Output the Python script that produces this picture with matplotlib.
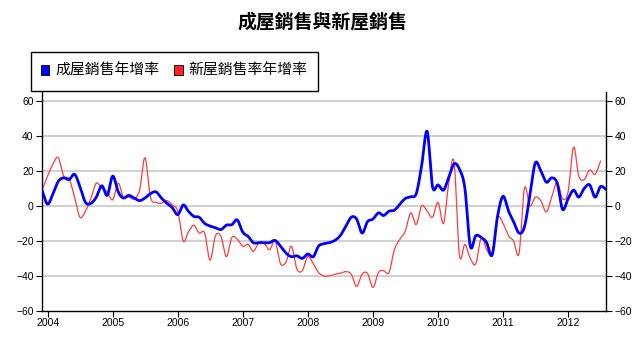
import numpy as np
import pandas as pd
import matplotlib
matplotlib.use("Agg")
import matplotlib.pyplot as plt
import matplotlib.dates as mdates
from matplotlib.patches import Patch, Rectangle

plt.rcParams['font.family'] = ['Noto Sans CJK TC', 'DejaVu Sans']

title = "成屋銷售與新屋銷售"
label_existing = "成屋銷售年增率"
label_new = "新屋銷售率年增率"

# monthly, Dec 2003 .. Aug 2012
existing = [9, 1, 7, 14, 16, 15, 18, 11, 2, 1.5, 5, 11.5,
            6, 17, 8, 4.5, 6, 4.5, 3, 4.5, 7, 8, 4.5, 1.5,
            -1, -5, 0.5, -3, -6, -6.5, -10, -11.5, -12.5, -13.5, -11, -10.7,
            -8, -15, -17.5, -21, -21, -21, -21, -19.7, -23, -27, -29, -28.5,
            -30, -27.5, -29, -23, -21.6, -21, -19.7, -17, -11.7, -6.5, -7.5, -15.5,
            -9, -7.5, -4, -5.5, -3, -2.5, 1, 4.2, 5.2, 7, 23, 42.5,
            11, 12, 9, 16, 24, 21, 10, -23, -17, -18, -21, -28,
            -6, 5.5, -3, -9, -15.5, -12, 6, 24.5, 20, 13.5, 16, 13,
            -2, 4, 9, 5, 10, 12, 5, 11, 9.5]
# monthly, Dec 2003 .. Jul 2012
new = [9, 17, 24, 27.5, 17, 15.5, 5, -6.5, -3, 4.5, 13, 10,
       8, 3.5, 13, 5, 5, 4, 9, 27.5, 5, 2, 1.5, 3,
       0.5, -3, -20, -15, -11, -15.5, -15.5, -31, -17, -17.5, -29, -18,
       -19, -23, -22, -26, -21, -21.5, -25, -20, -33, -32, -23, -36,
       -37, -29, -33, -38, -40, -40, -39, -38.5, -37.5, -39, -46, -39,
       -38.5, -46.5, -38, -37, -38, -25, -19, -14.5, -4, -10.7, 0, -3,
       -6.5, 2, -10, 12, 25, -28, -22, -30, -33, -18, -25, -27,
       -7, -10, -17, -20, -27, 10, 0, 5, 3, -3.5, 5, 13.5,
       4, 8, 33.5, 17, 15, 20.5, 18, 25.5]

dates_e = pd.date_range('2003-12-01', periods=len(existing), freq='MS')
dates_n = pd.date_range('2003-12-01', periods=len(new), freq='MS')


def smooth(dates, vals, n=12):
    x = mdates.date2num(dates.to_pydatetime())
    y = np.asarray(vals, float)
    xp = np.concatenate([[2 * x[0] - x[1]], x, [2 * x[-1] - x[-2]]])
    yp = np.concatenate([[2 * y[0] - y[1]], y, [2 * y[-1] - y[-2]]])
    xs, ys = [], []
    t = np.linspace(0, 1, n, endpoint=False)
    for i in range(1, len(xp) - 2):
        p0, p1, p2, p3 = yp[i - 1], yp[i], yp[i + 1], yp[i + 2]
        seg = 0.5 * ((2 * p1) + (-p0 + p2) * t + (2 * p0 - 5 * p1 + 4 * p2 - p3) * t ** 2
                     + (-p0 + 3 * p1 - 3 * p2 + p3) * t ** 3)
        xs.append(xp[i] + (xp[i + 1] - xp[i]) * t)
        ys.append(seg)
    xs.append([x[-1]]); ys.append([y[-1]])
    return np.concatenate(xs), np.concatenate(ys)


fig = plt.figure(figsize=(6.4, 3.47), dpi=100)
ax = fig.add_axes([42 / 640, 1 - 311 / 347, (606 - 42) / 640, (311 - 92) / 347])

for v in [-40, -20, 0, 20, 40, 60]:
    ax.axhline(v, color='#c8c8c8', lw=1.2, zorder=0)

xn, yn = smooth(dates_n, new)
xe, ye = smooth(dates_e, existing)
ax.plot(xn, yn, color='#ff3b3b', lw=0.9, zorder=2)
ax.plot(xe, ye, color='#0000ff', lw=2.0, zorder=3)

ax.set_xlim(mdates.date2num(dates_e[0].to_pydatetime()), mdates.date2num(dates_e[-1].to_pydatetime()))
ax.set_ylim(-60, 65)
ax.set_yticks([-60, -40, -20, 0, 20, 40, 60])
ax.xaxis.set_major_locator(mdates.YearLocator())
ax.xaxis.set_major_formatter(mdates.DateFormatter('%Y'))

ax.spines['top'].set_visible(False)
for s in ['left', 'right', 'bottom']:
    ax.spines[s].set_linewidth(1.0)
    ax.spines[s].set_color('black')

ax.tick_params(axis='y', which='both', left=True, right=True, labelleft=True, labelright=True,
               direction='out', length=4, width=0.8, labelsize=7.5, pad=2)
ax.tick_params(axis='x', direction='out', length=4, width=0.8, labelsize=7.5, pad=1)
for lab in ax.get_xticklabels() + ax.get_yticklabels():
    lab.set_fontfamily(['Liberation Sans', 'DejaVu Sans'])

fig.text(322 / 640, 1 - 22 / 347, title, ha='center', va='center', fontsize=13.6, fontweight='bold')

# legend frame
fig.patches.append(Rectangle((30.5 / 640, 1 - 91 / 347), 287.5 / 640, 38.5 / 347,
                             transform=fig.transFigure, facecolor='white',
                             edgecolor='black', lw=1.0, zorder=5))

handles = [Patch(facecolor='#0000ff', edgecolor='black', lw=0.6),
           Patch(facecolor='#ff2020', edgecolor='black', lw=0.6)]
leg = fig.legend(handles, [label_existing, label_new], loc='center',
                 bbox_to_anchor=(174 / 640, 1 - 71 / 347), ncol=2, fontsize=10.7,
                 frameon=False, handlelength=0.6, handleheight=0.6,
                 handletextpad=0.4, columnspacing=0.95,
                 borderpad=0, borderaxespad=0)
leg.set_zorder(6)

fig.savefig('out.png', dpi=100)
